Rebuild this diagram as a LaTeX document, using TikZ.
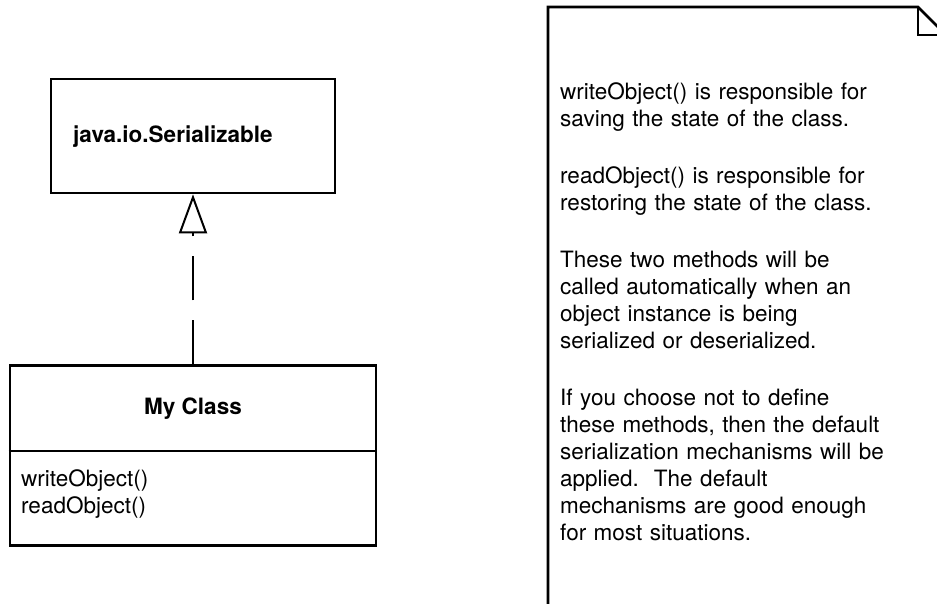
\documentclass[tikz,border=0pt]{standalone}
\usepackage{fontspec}
\setmainfont{TeX Gyre Heros}
\usetikzlibrary{positioning,arrows.meta}

\begin{document}
\begin{tikzpicture}[x=1pt,y=-1pt,node distance=170pt]
\tikzstyle{classbox} = [rectangle, draw, line width=2.6pt, inner sep=0pt]
\tikzstyle{txt} = [font=\fontsize{22.5}{27}\selectfont, inner sep=0pt, align=left]
\tikzstyle{bold} = [font=\fontsize{22.5}{27}\selectfont\bfseries, inner sep=0pt]
\tikzstyle{realize} = [line width=2pt, dash pattern=on 44pt off 20pt, -{Triangle[open,length=39pt,width=28pt]}]
\tikzstyle{note} = [line width=2.6pt, line join=miter]

\clip (0,0) rectangle (937,603);
\fill[white] (0,0) rectangle (937,603);

% interface and class
\node (serial) [classbox, minimum width=284pt, minimum height=114pt] at (193,136) {};
\node (serialname) [bold, anchor=west] at (73,137) {java.io.Serializable};
\node (myclass) [classbox, minimum width=366pt, minimum height=180pt, below=of serial] {};
\node (mytitle) [bold] at ([yshift=-44pt]myclass.north) {My Class};
\draw [line width=2pt] ([yshift=-87pt]myclass.north west) -- ([yshift=-87pt]myclass.north east);
\node (methods) [txt, anchor=west] at (21,494) {writeObject()\\readObject()};

\draw [realize] (myclass) -- (serial);

% note
\draw [note] (548,640) -- (548,7) -- (918,7) -- (946,35) -- (946,640);
\draw [note] (918,7) -- (918,35) -- (946,35);
\node (notetext) [txt, anchor=north west, text width=370pt] at (560,82.5) {%
writeObject() is responsible for\\
saving the state of the class.\\[30pt]
readObject() is responsible for\\
restoring the state of the class.\\[30pt]
These two methods will be\\
called automatically when an\\
object instance is being\\
serialized or deserialized.\\[30pt]
If you choose not to define\\
these methods, then the default\\
serialization mechanisms will be\\
applied.\ \ The default\\
mechanisms are good enough\\
for most situations.};

\end{tikzpicture}
\end{document}
